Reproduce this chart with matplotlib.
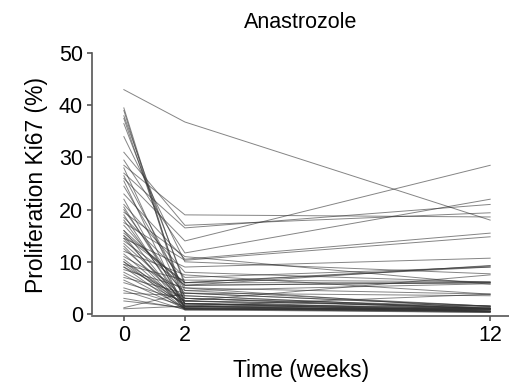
import matplotlib.pyplot as plt

plt.rcParams['font.family'] = ['Liberation Sans', 'DejaVu Sans']

weeks = [0, 2, 12]

# Ki67 (%) per patient at weeks 0, 2, 12
wk0 = [43, 39.5, 39, 38, 37.5, 36.5, 34, 31, 29.5, 28.5, 28, 27, 26, 25.5, 24.5,
       23, 22, 21, 20, 19.5, 19, 18.5, 18, 17.5, 17, 16, 15, 15, 14.5, 14.5,
       14, 13.5, 13, 12, 11.5, 11, 10, 10, 9.5, 9.5, 9, 9, 8.5, 8, 7.5,
       7, 6.5, 6, 5, 4.5, 4, 3, 2.5, 1.2, 1,
       16, 15.5, 20.5, 26.5, 12.5, 10.5]
wk2 = [36.8, 2, 1.5, 5.5, 3, 6, 10, 17, 11.7, 19, 2.5, 16.5, 14, 1, 5,
       10.5, 1.2, 8, 3.5, 11, 1, 7, 2, 10.3, 4, 1.5, 6, 0.8, 9, 2,
       5.5, 3, 1, 7.5, 1.5, 4.5, 2.5, 1, 6.5, 1.8, 3, 0.8, 5, 2, 1.2,
       4, 1, 2.5, 1.5, 0.8, 3.5, 1, 1.2, 4, 1.5,
       5.5, 6, 2, 4.5, 2.5, 1.5]
wk12 = [18, 1, 0.5, 6, 1, 9.2, 7.7, 19.4, 22, 18.6, 1.5, 21, 28.5, 0.5, 3.8,
        15.5, 0.8, 6.1, 1, 5.7, 0.5, 9, 1.2, 14.8, 1.5, 0.5, 6, 1, 10.7, 0.5,
        9.3, 1, 0.3, 3.8, 1.2, 5.8, 0.5, 1, 6.2, 0.8, 1.5, 0.3, 1, 0.6, 0.5,
        3.5, 1, 1.3, 0.4, 0.8, 1, 0.5, 1, 1.5, 0.8,
        6, 9, 1, 1.5, 7.5, 3.8]

fig = plt.figure(figsize=(5.1, 3.85), dpi=100)
ax = fig.add_axes([0.18, 0.179, 0.82, 0.683])

for a, b, c in zip(wk0, wk2, wk12):
    ax.plot(weeks, [a, b, c], color='#333333', lw=0.7, alpha=0.6)

ax.set_xlim(-1.05, 12.65)
ax.set_ylim(-0.4, 50)
ax.set_xticks(weeks)
ax.set_yticks([0, 10, 20, 30, 40, 50])
ax.spines['top'].set_visible(False)
ax.spines['right'].set_visible(False)
ax.spines['left'].set_bounds(0, 50)
ax.spines['left'].set_color('#555555')
ax.spines['bottom'].set_color('#555555')
ax.spines['left'].set_linewidth(1.2)
ax.spines['bottom'].set_linewidth(1.2)
ax.tick_params(direction='out', length=3.5, width=1.2, labelsize=15.5, color='#555555', pad=3)
ax.set_xlabel('Time (weeks)', fontsize=16.5, labelpad=9)
ax.set_ylabel('Proliferation Ki67 (%)', fontsize=16.5, labelpad=8)
ax.set_title('Anastrozole', fontsize=15.5, pad=18)

fig.savefig('out.png', dpi=100)
